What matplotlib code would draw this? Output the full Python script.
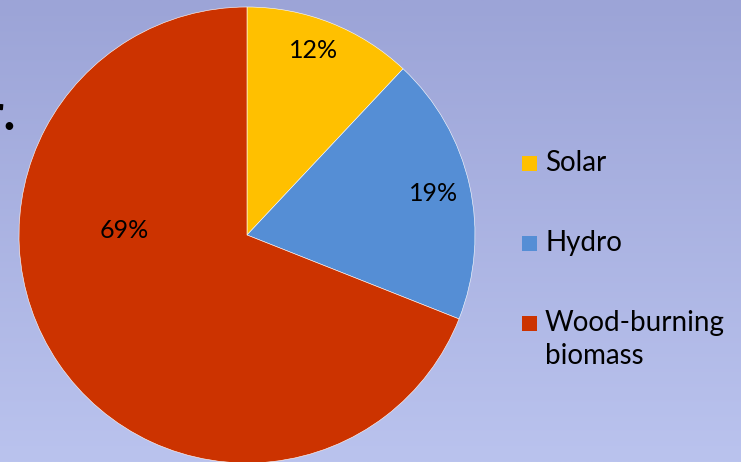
import numpy as np
import matplotlib.pyplot as plt
from matplotlib.patches import Rectangle

labels = ["Solar", "Hydro", "Wood-burning\nbiomass"]
shares = [12, 19, 69]
colors = ["#FFC000", "#558ED5", "#CC3300"]

plt.rcParams['font.family'] = ['Lato', 'DejaVu Sans']

fig = plt.figure(figsize=(7.41, 4.62), dpi=100)

# background gradient like the slide
bg = fig.add_axes([0, 0, 1, 1], zorder=-10)
top = np.array([156, 164, 215]) / 255
bottom = np.array([186, 195, 238]) / 255
t = np.linspace(0, 1, 256)[:, None]
grad = top + (bottom - top) * t
bg.imshow(grad[:, None, :].repeat(2, axis=1), aspect='auto', extent=[0, 1, 0, 1])
bg.axis('off')

# cut-off end of slide title
fig.text(15 / 741, 1 - 130 / 462, "r.", ha='right', va='baseline',
         fontsize=36, fontweight='bold', color='black')

ax = fig.add_axes([19 / 741, -1 / 462, 456 / 741, 456 / 462])
wedges, texts, autotexts = ax.pie(shares, colors=colors, startangle=90, counterclock=False,
                                  autopct='%d%%', pctdistance=0.84,
                                  wedgeprops=dict(edgecolor='white', linewidth=0.4),
                                  textprops=dict(fontsize=18, color='black'))
# the big slice has its label near the centre-left
autotexts[2].set_position((-0.54, 0.02))
autotexts[0].set_position((0.29, 0.81))
ax.set_xlim(-1, 1)
ax.set_ylim(-1, 1)
ax.set_aspect('equal')
ax.axis('off')

# legend
for i, (lab, col) in enumerate(zip(labels, colors)):
    yc = 1 - (163 + 80 * i) / 462
    fig.patches.append(Rectangle((522 / 741, yc - 7.5 / 462), 15 / 741, 15 / 462,
                                 transform=fig.transFigure, facecolor=col, edgecolor='none'))
    fig.text(545 / 741, yc + 13 / 462, lab, ha='left', va='top', fontsize=20,
             color='black', linespacing=1.35)

fig.savefig("out.png", dpi=100)
